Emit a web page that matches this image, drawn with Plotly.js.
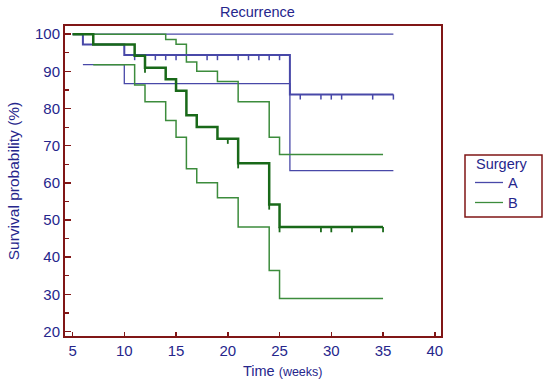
<!DOCTYPE html>
<html>
<head>
<meta charset="utf-8">
<script src="https://cdn.plot.ly/plotly-3.0.1.min.js"></script>
<style>html,body{margin:0;padding:0;background:#fff;}#chart{width:550px;height:383px;}</style>
</head>
<body>
<div id="chart"></div>
<script>
// ---- Data ----
// Group A: Kaplan-Meier estimate and 95% CI
const aTime = [5, 6, 10, 26, 36];
const aSurv = [100, 97.2, 94.4, 83.8, 83.8];
const aLowTime = [6, 10, 26, 36];
const aLow = [91.8, 86.7, 63.3, 63.3];
const aUpTime = [5, 36];
const aUp = [100, 100];
const aCensored = [11, 13, 14, 15, 18, 19, 21, 22, 23, 24, 25, 27, 29, 30, 31, 34, 36];

// Group B
const bTime = [5, 7, 11, 12, 14, 15, 16, 17, 19, 21, 24, 25, 35];
const bSurv = [100, 97.2, 94.2, 91.0, 87.9, 84.8, 78.2, 75.0, 71.9, 65.3, 54.2, 48.1, 48.1];
const bLowTime = [7, 11, 12, 14, 15, 16, 17, 19, 21, 24, 25, 35];
const bLow = [91.8, 86.3, 81.8, 76.8, 72.3, 63.8, 60.0, 56.0, 48.1, 36.4, 28.9, 28.9];
const bUpTime = [7, 14, 15, 16, 17, 19, 21, 24, 25, 35];
const bUp = [100, 98.6, 97.3, 92.5, 90.0, 87.3, 81.8, 72.3, 67.6, 67.6];
const bCensored = [12, 20, 21, 24, 25, 29, 30, 32, 35];

const xTicks = [5, 10, 15, 20, 25, 30, 35, 40];
const yTicks = [20, 30, 40, 50, 60, 70, 80, 90, 100];
const groups = ['A', 'B'];

// ---- Styling ----
const frameColor = 'rgb(128,22,22)';
const textColor = 'rgb(38,38,140)';
const blue = 'rgb(72,72,168)';
const greenCI = 'rgb(60,140,60)';
const greenMain = 'rgb(25,105,25)';
const FONT = 'Arial, "Liberation Sans", sans-serif';
const tickDrop = 1.4; // censor tick length in y units

function stepValue(times, vals, t) {
  let v = vals[0];
  for (let i = 0; i < times.length; i++) { if (times[i] <= t) v = vals[i]; }
  return v;
}
function censorTicks(cens, times, vals) {
  const xs = [], ys = [];
  cens.forEach(t => {
    const v = stepValue(times, vals, t);
    xs.push(t, t, null); ys.push(v, v - tickDrop, null);
  });
  return {xs, ys};
}
function stepTrace(x, y, color, width) {
  return {x: x, y: y, type: 'scatter', mode: 'lines', line: {shape: 'hv', color: color, width: width},
          showlegend: false, hoverinfo: 'skip'};
}

const aC = censorTicks(aCensored, aTime, aSurv);
const bC = censorTicks(bCensored, bTime, bSurv);

const traces = [
  stepTrace(aUpTime, aUp, blue, 1.3),
  stepTrace(aLowTime, aLow, blue, 1.3),
  stepTrace(bUpTime, bUp, greenCI, 1.5),
  stepTrace(bLowTime, bLow, greenCI, 1.5),
  stepTrace(aTime, aSurv, blue, 2),
  {x: aC.xs, y: aC.ys, type: 'scatter', mode: 'lines', line: {color: blue, width: 1.5}, showlegend: false, hoverinfo: 'skip'},
  stepTrace(bTime, bSurv, greenMain, 2.5),
  {x: bC.xs, y: bC.ys, type: 'scatter', mode: 'lines', line: {color: greenMain, width: 1.8}, showlegend: false, hoverinfo: 'skip'}
];

// plot area in pixels
const L = 65, R = 441, T = 26, B = 336;
const px = x => (x - L) / (R - L);
const py = y => (B - y) / (B - T);

const legendColors = [blue, greenCI];
const shapes = [
  {type: 'rect', xref: 'paper', yref: 'paper', x0: px(465), x1: px(542), y0: py(217), y1: py(155),
   line: {color: frameColor, width: 1.5}, fillcolor: 'rgba(0,0,0,0)'}
];
const annotations = [
  {xref: 'paper', yref: 'paper', x: px(474), y: py(164), xanchor: 'left', yanchor: 'middle', showarrow: false,
   text: 'Surgery', font: {family: FONT, size: 14.5, color: textColor}},
  {xref: 'paper', yref: 'paper', x: px(282), y: py(371), xanchor: 'center', yanchor: 'middle', showarrow: false,
   text: 'Time <span style="font-size:12.5px">(weeks)</span>', font: {family: FONT, size: 14.5, color: textColor}}
];
groups.forEach((g, i) => {
  const yy = 182.5 + i * 20;
  shapes.push({type: 'line', xref: 'paper', yref: 'paper', x0: px(475), x1: px(503), y0: py(yy), y1: py(yy),
               line: {color: legendColors[i], width: 1.3}});
  annotations.push({xref: 'paper', yref: 'paper', x: px(506), y: py(yy), xanchor: 'left', yanchor: 'middle',
                    showarrow: false, text: g, font: {family: FONT, size: 14.5, color: textColor}});
});

const layout = {
  width: 550, height: 383,
  margin: {l: L, r: 550 - R, t: T, b: 383 - B, pad: 0},
  paper_bgcolor: '#fff', plot_bgcolor: '#fff',
  font: {family: FONT, size: 14, color: textColor},
  title: {text: 'Recurrence', x: 0.468, xanchor: 'center', y: 1 - 12 / 383, yanchor: 'middle',
          font: {family: FONT, size: 14.5, color: textColor}},
  showlegend: false,
  xaxis: {
    range: [4.27, 40.6], tickvals: xTicks, ticktext: xTicks.map(String),
    ticks: 'inside', ticklen: 4, tickwidth: 1.5, tickcolor: frameColor,
    showline: true, linecolor: frameColor, linewidth: 2, mirror: true,
    showgrid: false, zeroline: false,
    tickfont: {family: FONT, size: 15, color: textColor}
  },
  yaxis: {
    range: [18.8, 102.2], tickvals: yTicks, ticktext: yTicks.map(String),
    ticks: 'inside', ticklen: 6, tickwidth: 1.5, tickcolor: frameColor,
    minor: {dtick: 5, tick0: 0, ticks: 'inside', ticklen: 3.5, tickwidth: 1.2, tickcolor: frameColor, showgrid: false},
    showline: true, linecolor: frameColor, linewidth: 2, mirror: true,
    showgrid: false, zeroline: false,
    title: {text: 'Survival probability (%)', standoff: 12, font: {family: FONT, size: 15.5, color: textColor}},
    tickfont: {family: FONT, size: 15, color: textColor}
  },
  shapes: shapes,
  annotations: annotations
};

Plotly.newPlot('chart', traces, layout, {staticPlot: true, displayModeBar: false});
</script>
</body>
</html>
